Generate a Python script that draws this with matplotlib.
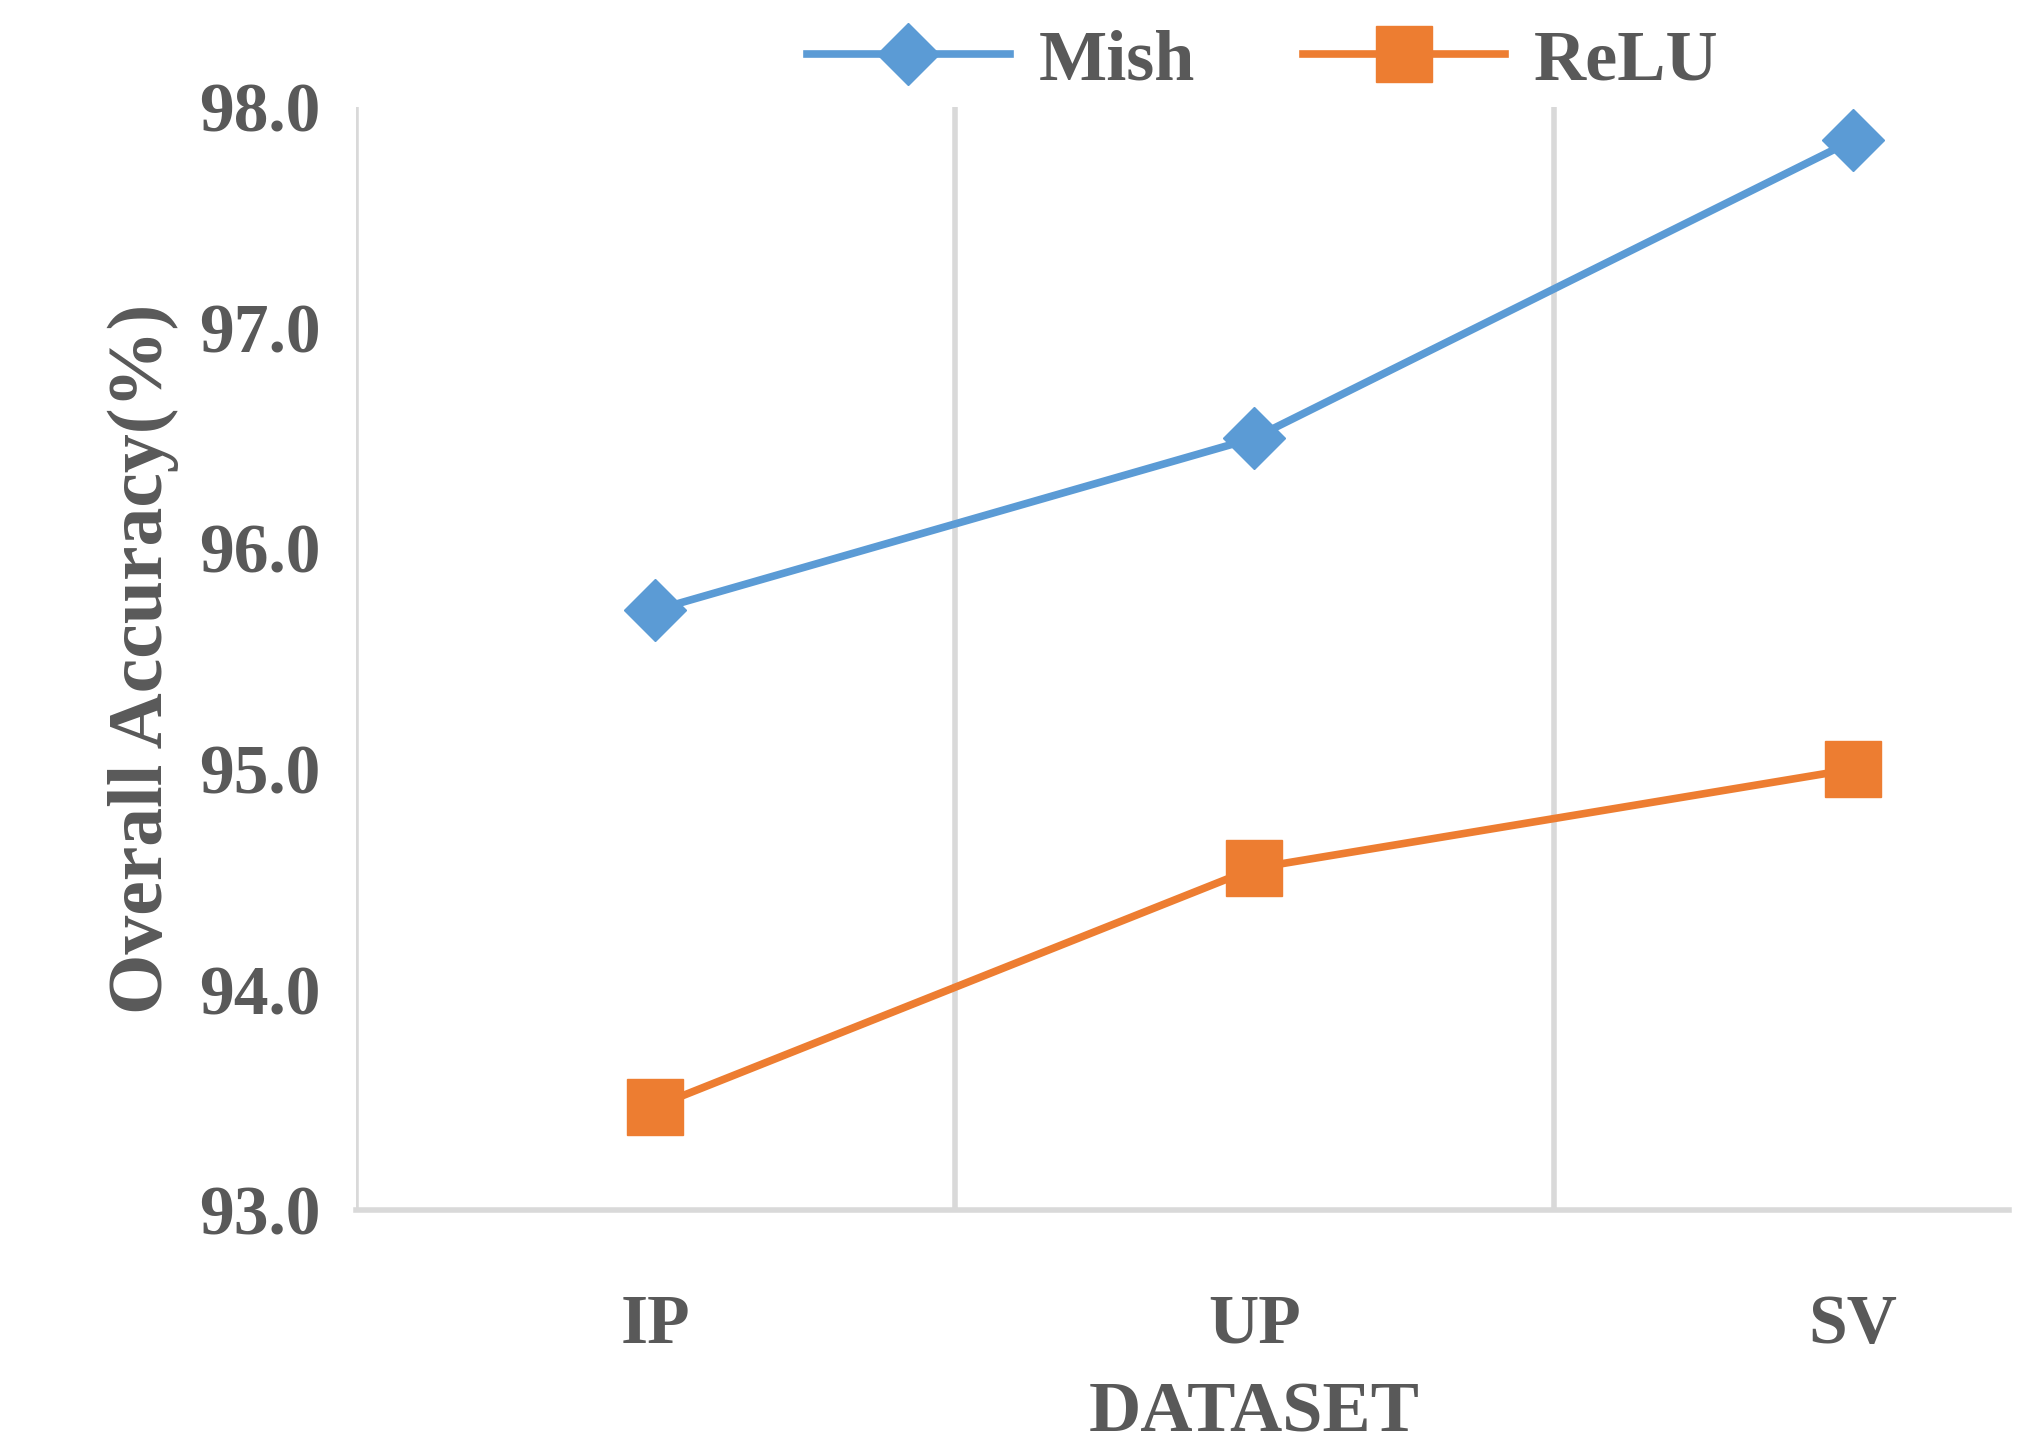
import matplotlib.pyplot as plt

datasets = ["IP", "UP", "SV"]
mish = [95.72, 96.5, 97.85]
relu = [93.47, 94.55, 95.0]

grey = "#595959"
plt.rcParams['font.family'] = ['Liberation Serif', 'DejaVu Serif']
plt.rcParams['font.weight'] = 'bold'
plt.rcParams['axes.labelweight'] = 'bold'

fig = plt.figure(figsize=(20.21, 14.46), dpi=100)
ax = fig.add_axes([0.176, 0.163, 0.818, 0.763])

x = range(len(datasets))
ax.plot(x, mish, color="#5B9BD5", lw=5.5, marker="D", ms=32, label="Mish")
ax.plot(x, relu, color="#ED7D31", lw=5.5, marker="s", ms=40, label="ReLU")

ax.set_xlim(-0.5, 2.26)
ax.set_ylim(93.0, 98.0)
ax.set_yticks([93, 94, 95, 96, 97, 98])
ax.set_yticklabels([f"{v:.1f}" for v in [93, 94, 95, 96, 97, 98]])
ax.set_xticks(list(x))
ax.set_xticklabels(datasets)
for xv in [-0.5, 0.5, 1.5]:
    ax.axvline(xv, color="#D9D9D9", lw=4, zorder=0)
for s in ["top", "right", "left"]:
    ax.spines[s].set_visible(False)
ax.spines["bottom"].set_color("#D9D9D9")
ax.spines["bottom"].set_linewidth(4)
ax.tick_params(length=0, labelsize=50, colors=grey, pad=25)
ax.tick_params(axis="x", pad=60)

ax.set_xlabel("DATASET", fontsize=52, color=grey, labelpad=0)
ax.xaxis.set_label_coords(0.5 / 2.76 + 0.5 / 2.76 * 1.0 + 0.5 / 2.76 * 0, -0.155)
ax.xaxis.label.set_position((1.5 / 2.76, 0))
ax.xaxis.set_label_coords(1.5 / 2.76, -0.155)
ax.set_ylabel("Overall Accuracy(%)", fontsize=56, color=grey, labelpad=15)

fig.legend(loc="upper center", bbox_to_anchor=(0.625, 1.025), ncol=2, frameon=False,
           fontsize=52, labelcolor=grey, handlelength=2.8, columnspacing=1.5,
           handletextpad=0.4)

fig.savefig("out.png")
